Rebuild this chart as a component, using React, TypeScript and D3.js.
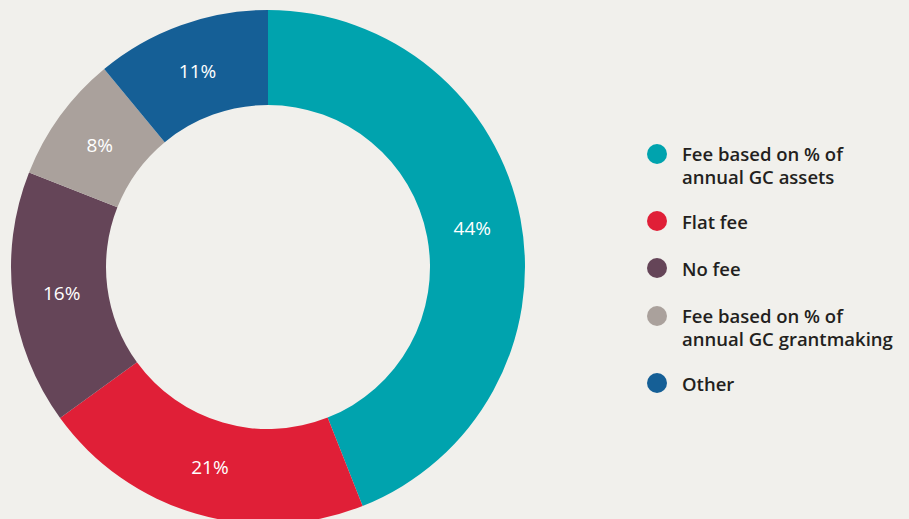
import React, { useRef, useEffect } from "react";
import * as d3 from "d3";

const categories = [
  "Fee based on % of annual GC assets",
  "Flat fee",
  "No fee",
  "Fee based on % of annual GC grantmaking",
  "Other",
];
const legendLines = [
  ["Fee based on % of", "annual GC assets"],
  ["Flat fee"],
  ["No fee"],
  ["Fee based on % of", "annual GC grantmaking"],
  ["Other"],
];
const values = [44, 21, 16, 8, 11];
const colors = ["#00a3ae", "#e01f37", "#654558", "#aaa19c", "#155f96"];

const App: React.FC = () => {
  const svgRef = useRef<SVGSVGElement | null>(null);

  useEffect(() => {
    document.body.style.margin = "0";
    if (!svgRef.current) return;
    const svg = d3.select(svgRef.current);
    svg.selectAll("*").remove();

    const width = 909;
    const height = 519;
    const cx = 268;
    const cy = 267;
    const outer = 257;
    const inner = 162;

    svg.append("rect").attr("width", width).attr("height", height).attr("fill", "#f1f0ec");

    const data = categories.map((c, i) => ({ label: c, value: values[i], color: colors[i] }));

    const pie = d3
      .pie<{ label: string; value: number; color: string }>()
      .value((d) => d.value)
      .sort(null);
    const arc = d3
      .arc<d3.PieArcDatum<{ label: string; value: number; color: string }>>()
      .innerRadius(inner)
      .outerRadius(outer);
    const labelArc = d3
      .arc<d3.PieArcDatum<{ label: string; value: number; color: string }>>()
      .innerRadius(208)
      .outerRadius(208);

    const g = svg.append("g").attr("transform", `translate(${cx},${cy})`);
    const arcs = pie(data);

    g.selectAll("path")
      .data(arcs)
      .enter()
      .append("path")
      .attr("d", arc)
      .attr("fill", (d) => d.data.color);

    g.selectAll("text.val")
      .data(arcs)
      .enter()
      .append("text")
      .attr("class", "val")
      .attr("transform", (d) => {
        const [x, y] = labelArc.centroid(d);
        return `translate(${x},${y})`;
      })
      .attr("text-anchor", "middle")
      .attr("dominant-baseline", "central")
      .attr("fill", "#ffffff")
      .style("font-family", "'Open Sans', sans-serif")
      .style("font-size", "19px")
      .style("font-weight", 500)
      .text((d) => `${d.data.value}%`);

    // Legend
    const rowY = [153, 221, 268, 315, 383];
    const legend = svg.append("g");
    legendLines.forEach((lines, i) => {
      legend
        .append("circle")
        .attr("cx", 657)
        .attr("cy", lines.length > 1 ? rowY[i] + 1 : rowY[i])
        .attr("r", 10)
        .attr("fill", colors[i]);
      lines.forEach((line, j) => {
        legend
          .append("text")
          .attr("x", 682)
          .attr("y", rowY[i] + j * 23)
          .attr("dominant-baseline", "central")
          .attr("fill", "#231f20")
          .style("font-family", "'Open Sans', sans-serif")
          .style("font-size", "18.5px")
          .style("font-weight", 600)
          .text(line);
      });
    });
  }, []);

  return <svg ref={svgRef} width={909} height={519} style={{ display: "block" }} />;
};

export default App;
